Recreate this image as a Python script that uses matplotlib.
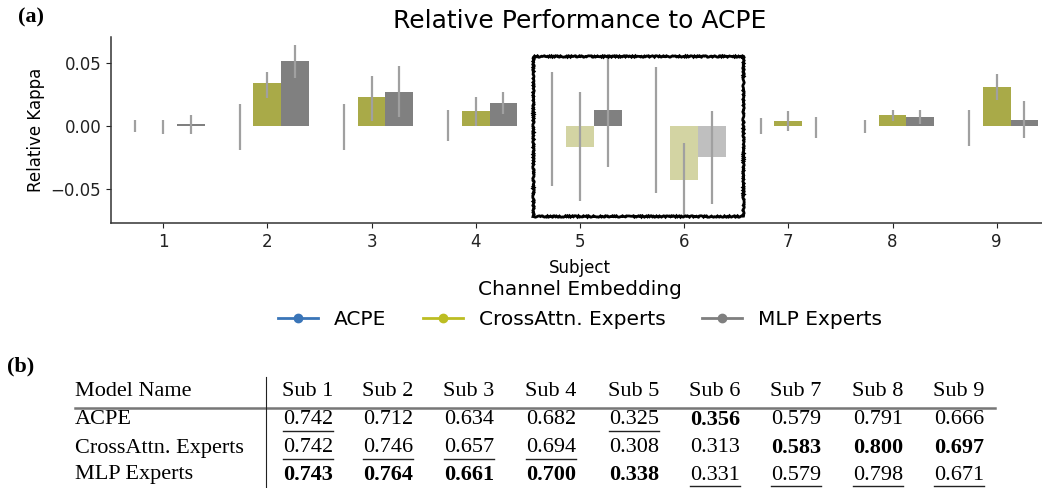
import numpy as np
import matplotlib
matplotlib.use("Agg")
import matplotlib.pyplot as plt
from matplotlib.lines import Line2D
from matplotlib.patches import Rectangle

# ---------------- data ----------------
subjects = ["1", "2", "3", "4", "5", "6", "7", "8", "9"]
models = ["ACPE", "CrossAttn. Experts", "MLP Experts"]

# relative kappa (model - ACPE)
rel_acpe = [0.0, 0.0, 0.0, 0.0, 0.0, 0.0, 0.0, 0.0, 0.0]
rel_cross = [0.000, 0.034, 0.023, 0.012, -0.017, -0.043, 0.004, 0.009, 0.031]
rel_mlp = [0.0015, 0.052, 0.027, 0.018, 0.013, -0.025, 0.000, 0.007, 0.005]

# error bar extents (low, high)
err_acpe_lo = [-0.005, -0.019, -0.019, -0.012, -0.0475, -0.053, -0.0066, -0.0053, -0.016]
err_acpe_hi = [0.0048, 0.0175, 0.0175, 0.0127, 0.0428, 0.0467, 0.0061, 0.0048, 0.0127]
err_cross_lo = [-0.0064, 0.022, 0.004, 0.0003, -0.0597, -0.071, -0.0042, 0.0042, 0.0207]
err_cross_hi = [0.0048, 0.043, 0.040, 0.0229, 0.0268, -0.0133, 0.0117, 0.0127, 0.0416]
err_mlp_lo = [-0.0064, 0.038, 0.0074, 0.0093, -0.0324, -0.0623, -0.0098, 0.0018, -0.0098]
err_mlp_hi = [0.0085, 0.0647, 0.048, 0.0268, 0.0573, 0.0122, 0.0074, 0.0125, 0.0199]

# table (b)
table_cols = ["Sub 1", "Sub 2", "Sub 3", "Sub 4", "Sub 5", "Sub 6", "Sub 7", "Sub 8", "Sub 9"]
table_acpe = ["0.742", "0.712", "0.634", "0.682", "0.325", "0.356", "0.579", "0.791", "0.666"]
table_cross = ["0.742", "0.746", "0.657", "0.694", "0.308", "0.313", "0.583", "0.800", "0.697"]
table_mlp = ["0.743", "0.764", "0.661", "0.700", "0.338", "0.331", "0.579", "0.798", "0.671"]
bold_acpe = [5]
bold_cross = [6, 7, 8]
bold_mlp = [0, 1, 2, 3, 4]
under_acpe = [0, 4]
under_cross = [0, 1, 2, 3]
under_mlp = [5, 6, 7, 8]

colors = ["#3a75b8", "#bcbd22", "#7f7f7f"]
bar_colors = ["#3274a1", "#a9aa48", "#808080"]

# ---------------- figure ----------------
W, H = 1042, 488
fig = plt.figure(figsize=(W / 100, H / 100), dpi=100)

def fx(px):
    return px / W

def fy(py):
    return 1 - py / H

ax = fig.add_axes([fx(111), fy(223.3), 0.9, (223.3 - 36.7) / H])

x = np.arange(len(subjects))
bw = 0.8 / 3
series = [rel_acpe, rel_cross, rel_mlp]
errs = [(err_acpe_lo, err_acpe_hi), (err_cross_lo, err_cross_hi), (err_mlp_lo, err_mlp_hi)]
for k in range(3):
    xs = x + (k - 1) * bw
    vals = np.array(series[k])
    for i in range(len(subjects)):
        alpha = 1.0
        if k > 0 and 4 <= i <= 5 and vals[i] < 0:
            alpha = 0.5
        ax.bar(xs[i], vals[i], width=bw, color=bar_colors[k], alpha=alpha,
               linewidth=0, zorder=2)
    lo, hi = errs[k]
    ax.vlines(xs, lo, hi, color="#a0a0a0", linewidth=1.6, zorder=3)

ax.set_xlim(-0.5, 8.5)
ax.set_ylim(-0.0775, 0.0711)
ax.set_xticks(x)
ax.set_xticklabels(subjects)
ax.set_yticks([-0.05, 0.0, 0.05])
ax.set_yticklabels(["\u22120.05", "0.00", "0.05"])
ax.tick_params(labelsize=12, colors="#222222")
ax.spines["top"].set_visible(False)
ax.spines["right"].set_visible(False)
for s in ["left", "bottom"]:
    ax.spines[s].set_color("#333333")
    ax.spines[s].set_linewidth(1.1)
ax.set_ylabel("Relative Kappa", fontsize=12)
ax.set_xlabel("Subject", fontsize=12, labelpad=6)
ax.set_title("Relative Performance to ACPE", fontsize=18, pad=6)

# highlight box
rect = Rectangle((3.553, -0.0717), 5.568 - 3.553, 0.0557 + 0.0717, fill=False,
                 edgecolor="black", linewidth=2.0, zorder=5)
rect.set_sketch_params(scale=0.7, length=1.5, randomness=6)
ax.add_patch(rect)

handles = [Line2D([0], [0], color=c, marker="o", markersize=6, linewidth=2) for c in colors]
leg = fig.legend(handles, models, title="Channel Embedding", loc="upper center",
                 bbox_to_anchor=(fx(580), fy(262)), ncol=3, frameon=False,
                 fontsize=14.5, title_fontsize=14.5, columnspacing=1.8,
                 handletextpad=0.8)
leg._legend_box.sep = 8

# panel labels
serif = ["Liberation Serif", "DejaVu Serif"]
fig.text(fx(18), fy(17), "(a)", family=serif, fontsize=16, fontweight="bold", va="center")
fig.text(fx(7), fy(366), "(b)", family=serif, fontsize=16, fontweight="bold", va="center")

# ---------------- table ----------------
fs = 16
row_y = [391, 420, 448, 475]
col_x = [308, 388, 469, 551, 634, 715, 796, 878, 959]
fig.text(fx(75), fy(row_y[0]), "Model Name", family=serif, fontsize=fs, va="center", ha="left")
for j, c in enumerate(table_cols):
    fig.text(fx(col_x[j]), fy(row_y[0]), c, family=serif, fontsize=fs, va="center", ha="center")

rows = [("ACPE", table_acpe, bold_acpe, under_acpe),
        ("CrossAttn. Experts", table_cross, bold_cross, under_cross),
        ("MLP Experts", table_mlp, bold_mlp, under_mlp)]
texts_to_underline = []
for r, (name, vals, bolds, unders) in enumerate(rows):
    yy = row_y[r + 1]
    fig.text(fx(75), fy(yy), name, family=serif, fontsize=fs, va="center", ha="left")
    for j, v in enumerate(vals):
        t = fig.text(fx(col_x[j]), fy(yy), v, family=serif, fontsize=fs, va="center",
                     ha="center", fontweight="bold" if j in bolds else "normal")
        if j in unders:
            texts_to_underline.append((t, yy))

# rules
fig.add_artist(Line2D([fx(75), fx(995)], [fy(408), fy(408)], color="#777777", linewidth=1.8))
fig.add_artist(Line2D([fx(266), fx(266)], [fy(377), fy(490)], color="#222222", linewidth=0.8))

fig.canvas.draw()
renderer = fig.canvas.get_renderer()
for t, yy in texts_to_underline:
    bb = t.get_window_extent(renderer)
    x0, x1 = bb.x0 / W, bb.x1 / W
    fig.add_artist(Line2D([x0, x1], [fy(yy + 10.5), fy(yy + 10.5)], color="#222222", linewidth=1.0))

fig.savefig("out.png", dpi=100)
